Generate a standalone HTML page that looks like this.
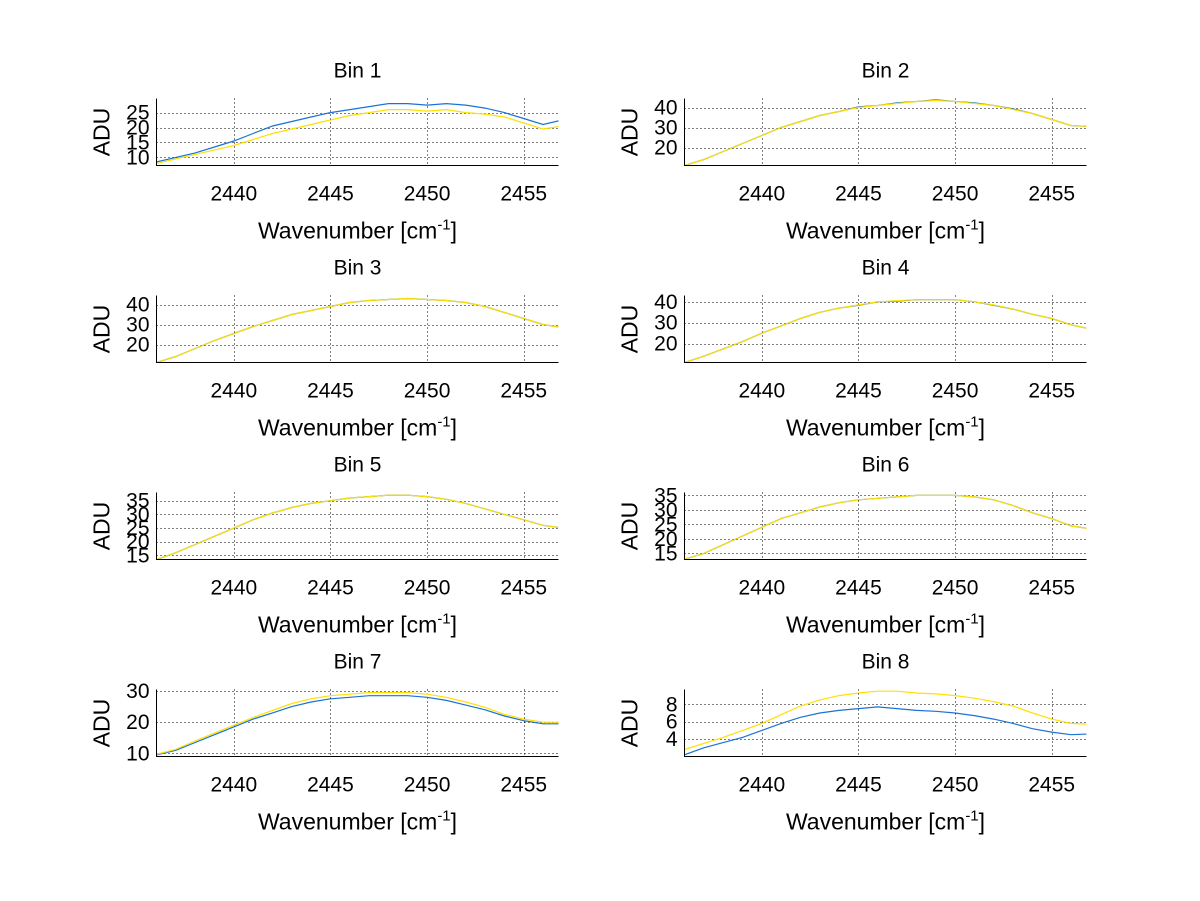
<!DOCTYPE html>
<html><head><meta charset="utf-8"><style>
body{margin:0;background:#fff;}
svg{display:block;font-family:"Liberation Sans",sans-serif;}
</style></head><body>
<svg id="fig" width="1200" height="901"></svg>
<script>
const wn = [2436,2437,2438,2439,2440,2441,2442,2443,2444,2445,2446,2447,2448,2449,2450,2451,2452,2453,2454,2455,2456,2457];
const xTicks = [2440,2445,2450,2455];
const bin1Blue = [8.5,10,11.5,13.5,15.5,18,20.5,22,23.5,25,26,27,28,28,27.5,28,27.5,26.5,25,23,21,22.5];
const bin1Yellow = [8,9.5,11,12.5,14,16,18,19.5,21,22.5,24,25,26,26,25.5,26,25,24.5,23.5,21.5,19.5,20.5];
const bin2Blue = [11,14,18,22,26,30,33,36,38,40.3,41,42.3,43,43.8,43,42.3,41,39.3,37,34,31,30.5];
const bin2Yellow = [11,14,18,22,26,30,33,36,38,40,41,42,43,43.5,43,42,41,39,37,34,31,30.5];
const bin3Blue = [11,14,18,22,25.5,29,32,35,37,39,41,42,42.5,43,42.5,42,41,39,36,33,30,28.5];
const bin3Yellow = [11,14,18,22,25.5,29,32,35,37,39,41,42,42.5,43,42.5,42,41,39,36,33,30,28.5];
const bin4Blue = [11,14,17.5,21,25,28.5,32,35,37,38.3,40,40.3,41,41,41,40,38.3,36.5,34,32,29,27];
const bin4Yellow = [11,14,17.5,21,25,28.5,32,35,37,38.5,40,40.5,41,41,41,40,38.5,36.5,34,32,29,27];
const bin5Blue = [13.5,16,19,22,25,28,30.5,32.5,34,35,36,36.5,37,37,36.5,35.5,34,32,30,28,26,25];
const bin5Yellow = [13.5,16,19,22,25,28,30.5,32.5,34,35,36,36.5,37,37,36.5,35.5,34,32,30,28,26,25];
const bin6Blue = [13,15,18,21,24,27,29,31,32.5,33.5,34,34.5,35,35,35,34.5,33.5,31.5,29,27,24.5,23.5];
const bin6Yellow = [13,15,18,21,24,27,29,31,32.5,33.5,34,34.5,35,35,35,34.5,33.5,31.5,29,27,24.5,23.5];
const bin7Blue = [9.5,11,13.5,16,18.5,21,23,25,26.5,27.5,28,28.5,28.5,28.5,28,27,25.5,24,22,20.5,19.5,19.5];
const bin7Yellow = [9.7,11.3,14,16.5,19,21.5,23.8,26,27.5,28.5,29,29.5,29.5,29.5,29,28,26.5,24.8,22.5,21,20,20];
const bin8Blue = [2.2,3,3.6,4.2,5,5.8,6.5,7,7.3,7.5,7.7,7.5,7.3,7.2,7,6.7,6.3,5.8,5.2,4.8,4.5,4.6];
const bin8Yellow = [2.8,3.5,4.2,5,5.8,6.8,7.8,8.5,9,9.3,9.5,9.5,9.3,9.2,9,8.7,8.3,7.8,7,6.3,5.8,5.7];
const yTicks1 = [10,15,20,25];
const yTicks2 = [20,30,40];
const yTicks5 = [15,20,25,30,35];
const yTicks7 = [10,20,30];
const yTicks8 = [4,6,8];

const panels = [
 {t:"Bin 1",c:0,r:0,y0:7.3,y1:29.7,ticks:yTicks1,b:bin1Blue,yl:bin1Yellow},
 {t:"Bin 2",c:1,r:0,y0:11,y1:44.5,ticks:yTicks2,b:bin2Blue,yl:bin2Yellow},
 {t:"Bin 3",c:0,r:1,y0:11,y1:44.5,ticks:yTicks2,b:bin3Blue,yl:bin3Yellow},
 {t:"Bin 4",c:1,r:1,y0:11,y1:43,ticks:yTicks2,b:bin4Blue,yl:bin4Yellow},
 {t:"Bin 5",c:0,r:2,y0:13.5,y1:38,ticks:yTicks5,b:bin5Blue,yl:bin5Yellow},
 {t:"Bin 6",c:1,r:2,y0:12.9,y1:36,ticks:yTicks5,b:bin6Blue,yl:bin6Yellow},
 {t:"Bin 7",c:0,r:3,y0:9,y1:30.5,ticks:yTicks7,b:bin7Blue,yl:bin7Yellow},
 {t:"Bin 8",c:1,r:3,y0:2,y1:9.7,ticks:yTicks8,b:bin8Blue,yl:bin8Yellow}
];
const NS="http://www.w3.org/2000/svg";
const svg=document.getElementById('fig');
function mk(tag,attrs,parent){const e=document.createElementNS(NS,tag);for(const k in attrs)e.setAttribute(k,attrs[k]);(parent||svg).appendChild(e);return e;}
panels.forEach((p,i)=>{
  const L=156.5+p.c*528, R=L+402, T=98.5+p.r*197, B=165.5+p.r*197;
  const xs=v=>L+(v-2436)/(2456.8-2436)*(R-L);
  const ys=v=>B-(v-p.y0)/(p.y1-p.y0)*(B-T);
  const g=mk('g',{});
  
  
  const cp=mk('clipPath',{id:'cp'+i},g);mk('rect',{x:L,y:T,width:R-L,height:B-T},cp);
  xTicks.forEach(v=>{const l=mk('line',{x1:Math.round(xs(v))+0.5,x2:Math.round(xs(v))+0.5,y1:T,y2:B,stroke:'#000','stroke-width':1,'stroke-dasharray':'1,3'},g);
    
    const t=mk('text',{x:xs(v),y:B+35,'text-anchor':'middle','font-size':21},g);t.textContent=v;
    });
  p.ticks.forEach(v=>{const yy=Math.round(ys(v))+0.5;const l=mk('line',{x1:L,x2:R,y1:yy,y2:yy,stroke:'#000','stroke-width':1,'stroke-dasharray':'1,3'},g);
    
    const t=mk('text',{x:L-7,y:ys(v)+7,'text-anchor':'end','font-size':21},g);t.textContent=v;
    });
  [[p.b,'#1a72d6'],[p.yl,'#ffe000']].forEach((s,k)=>{
    const d=s[0].map((v,j)=>(j?'L':'M')+xs(wn[j]).toFixed(1)+','+ys(v).toFixed(1)).join('');
    const pa=mk('path',{d:d,fill:'none',stroke:s[1],'stroke-width':1.2,'clip-path':'url(#cp'+i+')'},g);
    });
  const ax=mk('path',{d:`M${L},${T}V${B}H${R}`,fill:'none',stroke:'#000','stroke-width':1,'shape-rendering':'crispEdges'},g);
  
  const ti=mk('text',{x:(L+R)/2,y:T-21,'text-anchor':'middle','font-size':21},g);ti.textContent=p.t;
  
  const xl=mk('text',{x:(L+R)/2,y:B+73,'text-anchor':'middle','font-size':23},g);
  xl.innerHTML='Wavenumber [cm<tspan font-size="15" dy="-9">-1</tspan><tspan dy="9">]</tspan>';
  
  const yl=mk('text',{x:0,y:0,'text-anchor':'middle','font-size':23,transform:`translate(${L-47},${(T+B)/2}) rotate(-90)`},g);yl.textContent='ADU';
  
});
</script>
</body></html>
